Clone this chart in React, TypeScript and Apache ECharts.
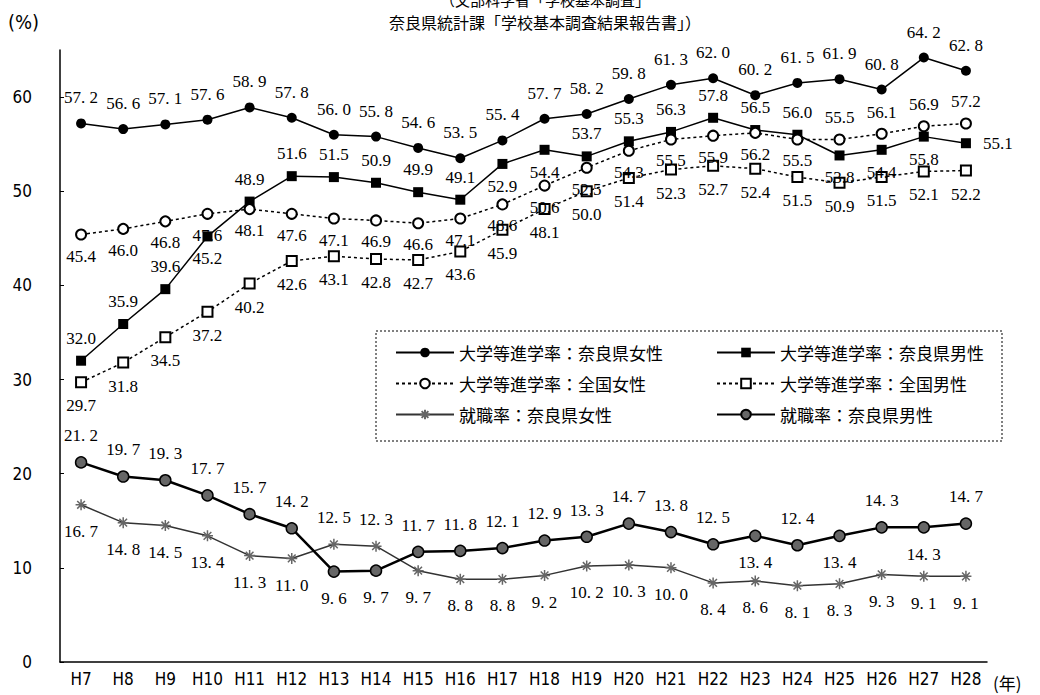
import React, { useEffect, useRef } from "react";
import * as echarts from "echarts";

// 年度（平成）
const years = ["H7", "H8", "H9", "H10", "H11", "H12", "H13", "H14", "H15", "H16", "H17", "H18", "H19", "H20", "H21", "H22", "H23", "H24", "H25", "H26", "H27", "H28"];

// 大学等進学率（%）
const univNaraFemale = [57.2, 56.6, 57.1, 57.6, 58.9, 57.8, 56.0, 55.8, 54.6, 53.5, 55.4, 57.7, 58.2, 59.8, 61.3, 62.0, 60.2, 61.5, 61.9, 60.8, 64.2, 62.8];
const univNaraMale = [32.0, 35.9, 39.6, 45.2, 48.9, 51.6, 51.5, 50.9, 49.9, 49.1, 52.9, 54.4, 53.7, 55.3, 56.3, 57.8, 56.5, 56.0, 53.8, 54.4, 55.8, 55.1];
const univJapanFemale = [45.4, 46.0, 46.8, 47.6, 48.1, 47.6, 47.1, 46.9, 46.6, 47.1, 48.6, 50.6, 52.5, 54.3, 55.5, 55.9, 56.2, 55.5, 55.5, 56.1, 56.9, 57.2];
const univJapanMale = [29.7, 31.8, 34.5, 37.2, 40.2, 42.6, 43.1, 42.8, 42.7, 43.6, 45.9, 48.1, 50.0, 51.4, 52.3, 52.7, 52.4, 51.5, 50.9, 51.5, 52.1, 52.2];

// 就職率（%）
const jobNaraFemale = [16.7, 14.8, 14.5, 13.4, 11.3, 11.0, 12.5, 12.3, 9.7, 8.8, 8.8, 9.2, 10.2, 10.3, 10.0, 8.4, 8.6, 8.1, 8.3, 9.3, 9.1, 9.1];
const jobNaraMale = [21.2, 19.7, 19.3, 17.7, 15.7, 14.2, 9.6, 9.7, 11.7, 11.8, 12.1, 12.9, 13.3, 14.7, 13.8, 12.5, 13.4, 12.4, 13.4, 14.3, 14.3, 14.7];

const yTicks = [0, 10, 20, 30, 40, 50, 60];

// data label side per point: t = above, b = below, r = right
const sideUnivNaraFemale = "tttttttttttttttttttttt";
const sideUnivNaraMale = "tttbttttttbbttttttbbbr";
const sideUnivJapanFemale = "bbbbbbbbbbbbbbbbbbtttt";
const sideUnivJapanMale = "bbbbbbbbbbbbbbbbbbbbbb";
const sideJobNaraFemale = "bbbbbbttbbbbbbbbbbbbbb";
const sideJobNaraMale = "ttttttbbttttttttbtbtbt";

const names = {
  univNaraFemale: "大学等進学率：奈良県女性",
  univNaraMale: "大学等進学率：奈良県男性",
  univJapanFemale: "大学等進学率：全国女性",
  univJapanMale: "大学等進学率：全国男性",
  jobNaraFemale: "就職率：奈良県女性",
  jobNaraMale: "就職率：奈良県男性",
};

const LABEL_FONT = "'Liberation Serif','DejaVu Serif',serif";
const AXIS_FONT = "'DejaVu Sans Condensed','Liberation Sans',sans-serif";
const JP_FONT = "'Noto Sans CJK JP','Noto Sans',sans-serif";

const spaced = (v: number) => v.toFixed(1).replace(".", ". ");
const plain = (v: number) => v.toFixed(1);

function withLabels(values: number[], sides: string, fmt: (v: number) => string, dist: number) {
  return values.map((v, i) => {
    const s = sides[i];
    const position = s === "t" ? "top" : s === "b" ? "bottom" : "right";
    return {
      value: v,
      label: {
        show: true,
        position,
        distance: s === "r" ? 12 : dist,
        formatter: fmt(v),
      },
    };
  });
}

const labelStyle = {
  color: "#000",
  fontFamily: LABEL_FONT,
  fontSize: 17,
};

export default function App() {
  const ref = useRef<HTMLDivElement>(null);

  useEffect(() => {
    if (!ref.current) return;
    const chart = echarts.init(ref.current, null, { renderer: "svg" });

    const asterisk = "path://M5,0L5,10M0,5L10,5M1.5,1.5L8.5,8.5M8.5,1.5L1.5,8.5";

    chart.setOption({
      animation: false,
      backgroundColor: "#fff",
      grid: { left: 60, right: 53, top: 50, bottom: 33, containLabel: false },
      xAxis: {
        type: "category",
        data: years,
        boundaryGap: true,
        axisLine: { lineStyle: { color: "#000", width: 1.5 } },
        axisTick: { inside: true, length: 5, lineStyle: { color: "#000", width: 1 } },
        axisLabel: { color: "#000", fontFamily: AXIS_FONT, fontSize: 17, margin: 8 },
        splitLine: { show: false },
      },
      yAxis: {
        type: "value",
        min: yTicks[0],
        max: 65,
        interval: 10,
        axisLine: { show: true, lineStyle: { color: "#000", width: 1.5 } },
        axisTick: { show: true, inside: true, length: 4, lineStyle: { color: "#000" } },
        axisLabel: { color: "#000", fontFamily: AXIS_FONT, fontSize: 17, margin: 28, showMaxLabel: false },
        splitLine: { show: false },
      },
      legend: {
        left: 390,
        top: 338,
        width: 640,
        itemWidth: 58,
        itemHeight: 12,
        itemGap: 12,
        data: [names.univNaraFemale, names.univNaraMale, names.univJapanFemale, names.univJapanMale, names.jobNaraFemale, names.jobNaraMale],
        textStyle: { color: "#000", fontFamily: JP_FONT, fontSize: 17, lineHeight: 19, width: 245 },
      },
      graphic: [
        {
          type: "rect",
          shape: { x: 376, y: 331, width: 626, height: 110 },
          style: { fill: "none", stroke: "#000", lineWidth: 1, lineDash: [2, 2] },
          z: 0,
        },
        {
          type: "text",
          style: { text: "（文部科学省「学校基本調査」", x: 545, y: -1, textAlign: "center", textVerticalAlign: "middle", font: `15px ${JP_FONT}`, fill: "#000" },
        },
        {
          type: "text",
          style: { text: "奈良県統計課「学校基本調査結果報告書」）", x: 545, y: 22, textAlign: "center", textVerticalAlign: "middle", font: `16px ${JP_FONT}`, fill: "#000" },
        },
        {
          type: "text",
          style: { text: "(%)", x: 8, y: 22, textAlign: "left", textVerticalAlign: "middle", font: `20px ${AXIS_FONT}`, fill: "#000" },
        },
        {
          type: "text",
          style: { text: "(年)", x: 993, y: 682, textAlign: "left", textVerticalAlign: "middle", font: `17px ${JP_FONT}`, fill: "#000" },
        },
      ],
      series: [
        {
          name: names.univNaraFemale,
          type: "line",
          data: withLabels(univNaraFemale, sideUnivNaraFemale, spaced, 12),
          symbol: "circle",
          symbolSize: 10,
          lineStyle: { color: "#000", width: 1.5 },
          itemStyle: { color: "#000" },
          label: labelStyle,
        },
        {
          name: names.univNaraMale,
          type: "line",
          data: withLabels(univNaraMale, sideUnivNaraMale, plain, 9),
          symbol: "rect",
          symbolSize: 10,
          lineStyle: { color: "#000", width: 1.5 },
          itemStyle: { color: "#000" },
          label: labelStyle,
        },
        {
          name: names.univJapanFemale,
          type: "line",
          data: withLabels(univJapanFemale, sideUnivJapanFemale, plain, 7),
          symbol: "emptyCircle",
          symbolSize: 10,
          lineStyle: { color: "#000", width: 1.5, type: [3, 3] },
          itemStyle: { color: "#000", borderWidth: 1.5 },
          label: labelStyle,
        },
        {
          name: names.univJapanMale,
          type: "line",
          data: withLabels(univJapanMale, sideUnivJapanMale, plain, 9),
          symbol: "emptyRect",
          symbolSize: 10,
          lineStyle: { color: "#000", width: 1.5, type: [3, 3] },
          itemStyle: { color: "#000", borderWidth: 1.5 },
          label: labelStyle,
        },
        {
          name: names.jobNaraFemale,
          type: "line",
          data: withLabels(jobNaraFemale, sideJobNaraFemale, spaced, 12),
          symbol: asterisk,
          symbolSize: 11,
          lineStyle: { color: "#333", width: 1.5 },
          itemStyle: { color: "#666", borderColor: "#666", borderWidth: 1.5 },
          label: labelStyle,
        },
        {
          name: names.jobNaraMale,
          type: "line",
          data: withLabels(jobNaraMale, sideJobNaraMale, spaced, 12),
          symbol: "circle",
          symbolSize: 11,
          lineStyle: { color: "#000", width: 2.5 },
          itemStyle: { color: "#666", borderColor: "#000", borderWidth: 1.5 },
          label: labelStyle,
        },
      ],
    });

    return () => chart.dispose();
  }, []);

  return (
    <div
      ref={ref}
      style={{ position: "absolute", left: 0, top: 0, width: 1040, height: 695, background: "#fff" }}
    />
  );
}
